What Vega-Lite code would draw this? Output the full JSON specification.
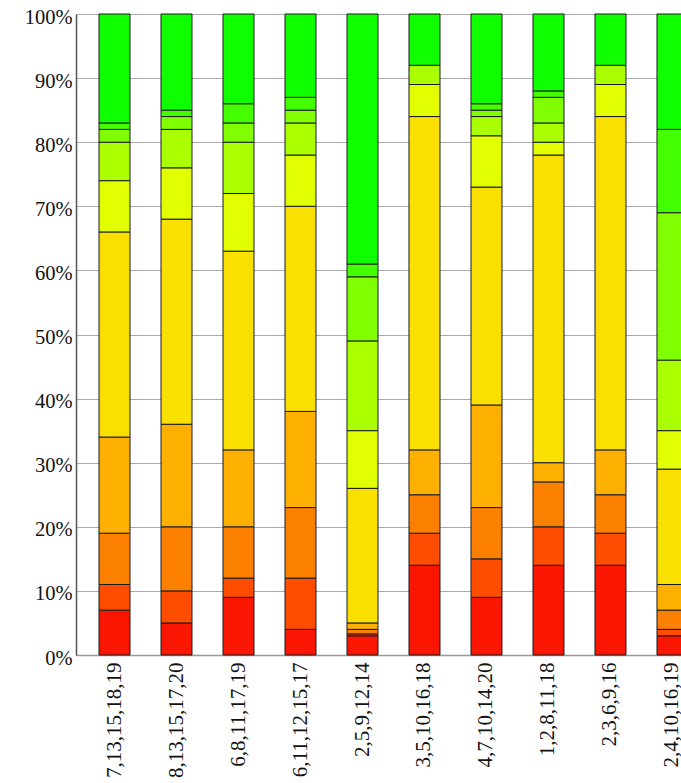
{
  "$schema": "https://vega.github.io/schema/vega-lite/v6.json",
  "autosize": {"type": "none"},
  "width": 605,
  "height": 641,
  "padding": {"left": 76, "top": 14, "right": 0, "bottom": 128},
  "background": "white",
  "config": {
    "font": "Liberation Serif",
    "view": {"stroke": null},
    "axis": {
      "labelFont": "Liberation Serif",
      "labelColor": "#111",
      "ticks": false,
      "gridColor": "#aaaaaa",
      "gridWidth": 1,
      "domainColor": "#666666",
      "domainWidth": 1.5
    }
  },
  "data": {
    "values": [
      {"set": "7,13,15,18,19", "level": 0, "pct": 7},
      {"set": "7,13,15,18,19", "level": 1, "pct": 4},
      {"set": "7,13,15,18,19", "level": 2, "pct": 8},
      {"set": "7,13,15,18,19", "level": 3, "pct": 15},
      {"set": "7,13,15,18,19", "level": 4, "pct": 32},
      {"set": "7,13,15,18,19", "level": 5, "pct": 8},
      {"set": "7,13,15,18,19", "level": 6, "pct": 6},
      {"set": "7,13,15,18,19", "level": 7, "pct": 2},
      {"set": "7,13,15,18,19", "level": 8, "pct": 1},
      {"set": "7,13,15,18,19", "level": 9, "pct": 17},
      {"set": "8,13,15,17,20", "level": 0, "pct": 5},
      {"set": "8,13,15,17,20", "level": 1, "pct": 5},
      {"set": "8,13,15,17,20", "level": 2, "pct": 10},
      {"set": "8,13,15,17,20", "level": 3, "pct": 16},
      {"set": "8,13,15,17,20", "level": 4, "pct": 32},
      {"set": "8,13,15,17,20", "level": 5, "pct": 8},
      {"set": "8,13,15,17,20", "level": 6, "pct": 6},
      {"set": "8,13,15,17,20", "level": 7, "pct": 2},
      {"set": "8,13,15,17,20", "level": 8, "pct": 1},
      {"set": "8,13,15,17,20", "level": 9, "pct": 15},
      {"set": "6,8,11,17,19", "level": 0, "pct": 9},
      {"set": "6,8,11,17,19", "level": 1, "pct": 3},
      {"set": "6,8,11,17,19", "level": 2, "pct": 8},
      {"set": "6,8,11,17,19", "level": 3, "pct": 12},
      {"set": "6,8,11,17,19", "level": 4, "pct": 31},
      {"set": "6,8,11,17,19", "level": 5, "pct": 9},
      {"set": "6,8,11,17,19", "level": 6, "pct": 8},
      {"set": "6,8,11,17,19", "level": 7, "pct": 3},
      {"set": "6,8,11,17,19", "level": 8, "pct": 3},
      {"set": "6,8,11,17,19", "level": 9, "pct": 14},
      {"set": "6,11,12,15,17", "level": 0, "pct": 4},
      {"set": "6,11,12,15,17", "level": 1, "pct": 8},
      {"set": "6,11,12,15,17", "level": 2, "pct": 11},
      {"set": "6,11,12,15,17", "level": 3, "pct": 15},
      {"set": "6,11,12,15,17", "level": 4, "pct": 32},
      {"set": "6,11,12,15,17", "level": 5, "pct": 8},
      {"set": "6,11,12,15,17", "level": 6, "pct": 5},
      {"set": "6,11,12,15,17", "level": 7, "pct": 2},
      {"set": "6,11,12,15,17", "level": 8, "pct": 2},
      {"set": "6,11,12,15,17", "level": 9, "pct": 13},
      {"set": "2,5,9,12,14", "level": 0, "pct": 3},
      {"set": "2,5,9,12,14", "level": 1, "pct": 0.3},
      {"set": "2,5,9,12,14", "level": 2, "pct": 0.7},
      {"set": "2,5,9,12,14", "level": 3, "pct": 1},
      {"set": "2,5,9,12,14", "level": 4, "pct": 21},
      {"set": "2,5,9,12,14", "level": 5, "pct": 9},
      {"set": "2,5,9,12,14", "level": 6, "pct": 14},
      {"set": "2,5,9,12,14", "level": 7, "pct": 10},
      {"set": "2,5,9,12,14", "level": 8, "pct": 2},
      {"set": "2,5,9,12,14", "level": 9, "pct": 39},
      {"set": "3,5,10,16,18", "level": 0, "pct": 14},
      {"set": "3,5,10,16,18", "level": 1, "pct": 5},
      {"set": "3,5,10,16,18", "level": 2, "pct": 6},
      {"set": "3,5,10,16,18", "level": 3, "pct": 7},
      {"set": "3,5,10,16,18", "level": 4, "pct": 52},
      {"set": "3,5,10,16,18", "level": 5, "pct": 5},
      {"set": "3,5,10,16,18", "level": 6, "pct": 3},
      {"set": "3,5,10,16,18", "level": 9, "pct": 8},
      {"set": "4,7,10,14,20", "level": 0, "pct": 9},
      {"set": "4,7,10,14,20", "level": 1, "pct": 6},
      {"set": "4,7,10,14,20", "level": 2, "pct": 8},
      {"set": "4,7,10,14,20", "level": 3, "pct": 16},
      {"set": "4,7,10,14,20", "level": 4, "pct": 34},
      {"set": "4,7,10,14,20", "level": 5, "pct": 8},
      {"set": "4,7,10,14,20", "level": 6, "pct": 3},
      {"set": "4,7,10,14,20", "level": 7, "pct": 1},
      {"set": "4,7,10,14,20", "level": 8, "pct": 1},
      {"set": "4,7,10,14,20", "level": 9, "pct": 14},
      {"set": "1,2,8,11,18", "level": 0, "pct": 14},
      {"set": "1,2,8,11,18", "level": 1, "pct": 6},
      {"set": "1,2,8,11,18", "level": 2, "pct": 7},
      {"set": "1,2,8,11,18", "level": 3, "pct": 3},
      {"set": "1,2,8,11,18", "level": 4, "pct": 48},
      {"set": "1,2,8,11,18", "level": 5, "pct": 2},
      {"set": "1,2,8,11,18", "level": 6, "pct": 3},
      {"set": "1,2,8,11,18", "level": 7, "pct": 4},
      {"set": "1,2,8,11,18", "level": 8, "pct": 1},
      {"set": "1,2,8,11,18", "level": 9, "pct": 12},
      {"set": "2,3,6,9,16", "level": 0, "pct": 14},
      {"set": "2,3,6,9,16", "level": 1, "pct": 5},
      {"set": "2,3,6,9,16", "level": 2, "pct": 6},
      {"set": "2,3,6,9,16", "level": 3, "pct": 7},
      {"set": "2,3,6,9,16", "level": 4, "pct": 52},
      {"set": "2,3,6,9,16", "level": 5, "pct": 5},
      {"set": "2,3,6,9,16", "level": 6, "pct": 3},
      {"set": "2,3,6,9,16", "level": 9, "pct": 8},
      {"set": "2,4,10,16,19", "level": 0, "pct": 3},
      {"set": "2,4,10,16,19", "level": 1, "pct": 1},
      {"set": "2,4,10,16,19", "level": 2, "pct": 3},
      {"set": "2,4,10,16,19", "level": 3, "pct": 4},
      {"set": "2,4,10,16,19", "level": 4, "pct": 18},
      {"set": "2,4,10,16,19", "level": 5, "pct": 6},
      {"set": "2,4,10,16,19", "level": 6, "pct": 11},
      {"set": "2,4,10,16,19", "level": 7, "pct": 23},
      {"set": "2,4,10,16,19", "level": 8, "pct": 13},
      {"set": "2,4,10,16,19", "level": 9, "pct": 18}
    ]
  },
  "mark": {"type": "bar", "stroke": "#1a1a1a", "strokeWidth": 1},
  "encoding": {
    "x": {
      "field": "set",
      "type": "nominal",
      "sort": null,
      "title": null,
      "scale": {"range": [0, 635], "paddingInner": 0.5, "paddingOuter": 0.371},
      "axis": {"labelFont": "Liberation Serif", "labelAngle": -90, "labelFontSize": 21, "labelPadding": 7, "grid": false, "domainColor": "#999999"}
    },
    "y": {
      "field": "pct",
      "type": "quantitative",
      "stack": "normalize",
      "title": null,
      "scale": {"domain": [0, 1], "nice": false},
      "axis": {"labelFont": "Liberation Serif", "format": ".0%", "values": [0, 0.1, 0.2, 0.3, 0.4, 0.5, 0.6, 0.7, 0.8, 0.9, 1], "labelFontSize": 20.5, "labelPadding": 4, "labelOffset": 3, "grid": true, "domainColor": "#555555"}
    },
    "color": {
      "field": "level",
      "type": "ordinal",
      "legend": null,
      "scale": {
        "domain": [0, 1, 2, 3, 4, 5, 6, 7, 8, 9],
        "range": ["#fa1600", "#ff4d00", "#fb8000", "#fdb000", "#f9e000", "#e2ff00", "#aaff00", "#80ff00", "#44ff00", "#10ff00"]
      }
    },
    "order": {"field": "level", "type": "quantitative"}
  }
}
